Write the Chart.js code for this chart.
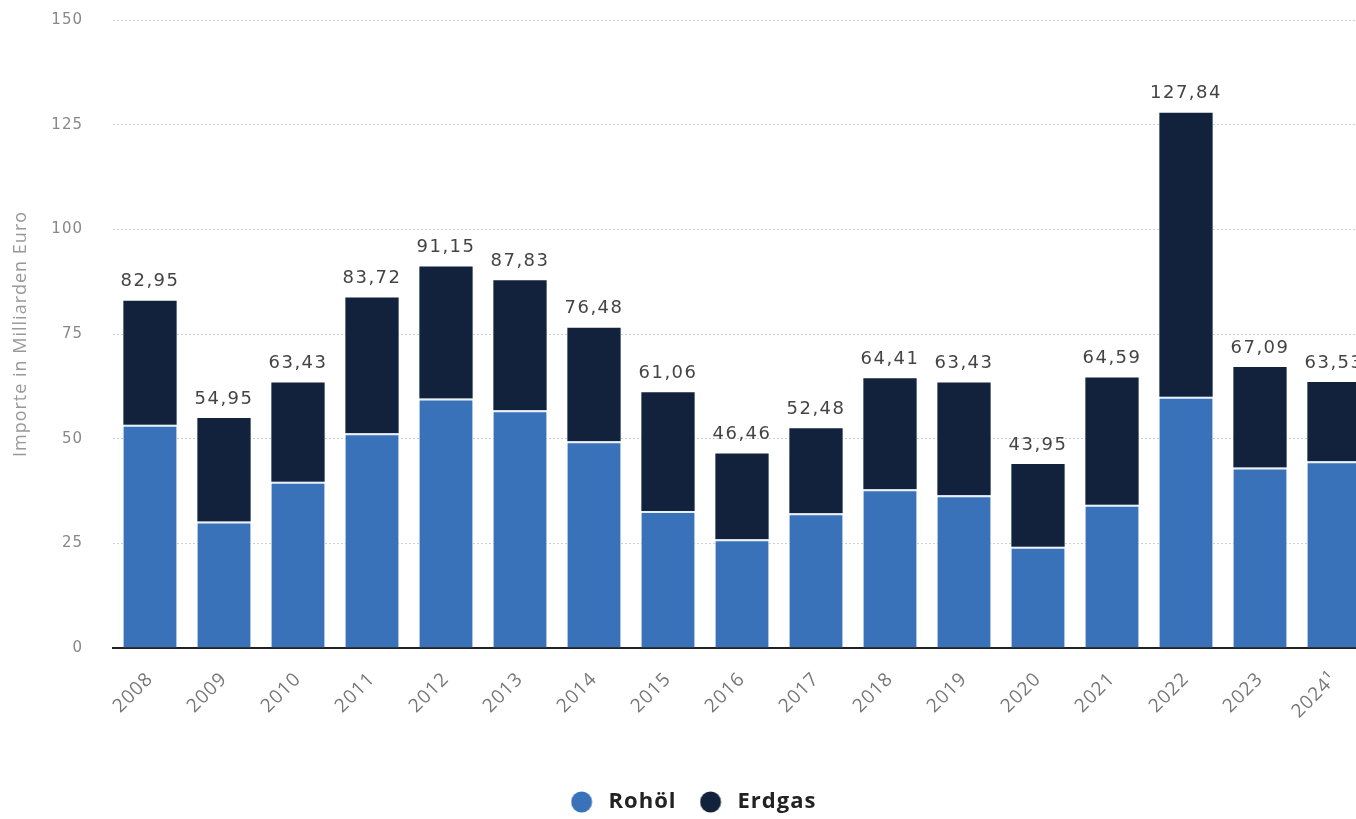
<!DOCTYPE html>
<html>
<head>
<meta charset="utf-8">
<script src="https://cdn.jsdelivr.net/npm/chart.js@4.4.1/dist/chart.umd.min.js"></script>
<style>
  html, body { margin: 0; padding: 0; background: #fff; overflow: hidden; }
  #wrap { width: 1372px; height: 819px; }
</style>
</head>
<body>
<div id="wrap"><canvas id="importChart"></canvas></div>
<script>
// Werte (Mrd. Euro)
var jahre = ['2008', '2009', '2010', '2011', '2012', '2013', '2014', '2015', '2016',
             '2017', '2018', '2019', '2020', '2021', '2022', '2023', '2024¹'];
var gesamt = [82.95, 54.95, 63.43, 83.72, 91.15, 87.83, 76.48, 61.06, 46.46,
              52.48, 64.41, 63.43, 43.95, 64.59, 127.84, 67.09, 63.53];
var rohoel = [53.3, 30.2, 39.7, 51.3, 59.6, 56.8, 49.4, 32.7, 26.0,
              32.2, 37.9, 36.5, 24.2, 34.2, 60.0, 43.1, 44.6];
var erdgas = [29.65, 24.75, 23.73, 32.42, 31.55, 31.03, 27.08, 28.36, 20.46,
              20.28, 26.51, 26.93, 19.75, 30.39, 67.84, 23.99, 18.93];
var yTicks = [0, 25, 50, 75, 100, 125, 150];

var farbeRohoel = '#3a72ba';
var farbeErdgas = '#13223c';

// Legendenpunkt als kleines Bild, damit mehr Abstand zum Text bleibt
function legendenPunkt(farbe) {
    var c = document.createElement('canvas');
    c.width = 32;
    c.height = 22;
    var g = c.getContext('2d');
    g.fillStyle = farbe;
    g.beginPath();
    g.arc(11, 11, 10.5, 0, Math.PI * 2);
    g.fill();
    return c;
}
var punkte = [legendenPunkt(farbeRohoel), legendenPunkt(farbeErdgas)];

// Summen ueber den Balken
var summenPlugin = {
    id: 'summen',
    beforeDraw: function (chart) {
        chart.ctx.letterSpacing = '1px';
    },
    afterDatasetsDraw: function (chart) {
        var ctx = chart.ctx;
        var meta = chart.getDatasetMeta(1);
        ctx.save();
        ctx.font = '18px "DejaVu Sans"';
        ctx.fillStyle = '#444';
        ctx.textAlign = 'center';
        ctx.textBaseline = 'bottom';
        ctx.letterSpacing = '1.5px';
        meta.data.forEach(function (bar, i) {
            var txt = gesamt[i].toFixed(2).replace('.', ',');
            ctx.fillText(txt, bar.x, bar.y - 10);
        });
        ctx.restore();
    }
};

var ctx = document.getElementById('importChart').getContext('2d');
new Chart(ctx, {
    type: 'bar',
    data: {
        labels: jahre,
        datasets: [{
            label: 'Rohöl',
            data: rohoel,
            backgroundColor: farbeRohoel,
            borderColor: '#e8f0fa',
            borderWidth: { top: 2, left: 0, right: 0, bottom: 0 },
            borderSkipped: false,
            categoryPercentage: 0.72,
            barPercentage: 1
        }, {
            label: 'Erdgas',
            data: erdgas,
            backgroundColor: farbeErdgas,
            categoryPercentage: 0.72,
            barPercentage: 1
        }]
    },
    options: {
        responsive: true,
        maintainAspectRatio: false,
        animation: false,
        layout: { padding: { top: 20, left: 10, right: 1, bottom: -4 } },
        plugins: {
            tooltip: { enabled: false },
            legend: {
                position: 'bottom',
                labels: {
                    usePointStyle: true,
                    boxWidth: 22,
                    boxHeight: 15,
                    padding: 28,
                    color: '#222',
                    font: { family: '"Open Sans"', size: 22, weight: 'bold' },
                    generateLabels: function (chart) {
                        var items = Chart.defaults.plugins.legend.labels.generateLabels(chart);
                        items.forEach(function (it, i) { it.pointStyle = punkte[i]; });
                        return items;
                    }
                }
            }
        },
        scales: {
            x: {
                stacked: true,
                grid: { display: false },
                border: { display: true, color: '#222', width: 2 },
                ticks: {
                    color: '#777',
                    font: { family: '"Open Sans"', size: 19 },
                    maxRotation: 45,
                    minRotation: 45,
                    padding: 12
                },
                afterFit: function (scale) { scale.height = 115; }
            },
            y: {
                stacked: true,
                min: 0,
                max: 150,
                afterBuildTicks: function (scale) {
                    scale.ticks = yTicks.map(function (v) { return { value: v }; });
                },
                grid: {
                    color: '#cfcfcf',
                    lineWidth: 1,
                    drawTicks: false
                },
                // gepunktete Gitterlinien
                border: { display: false, dash: [2, 2] },
                ticks: {
                    color: '#888',
                    font: { family: '"DejaVu Sans"', size: 15 },
                    padding: 30
                },
                title: {
                    display: true,
                    text: 'Importe in Milliarden Euro',
                    color: '#999',
                    font: { family: '"Open Sans"', size: 18 },
                    padding: 0
                },
                afterFit: function (scale) {
                    scale.width = 103;
                    scale.paddingTop = 0;
                    scale.paddingBottom = 0;
                }
            }
        }
    },
    plugins: [summenPlugin]
});
</script>
</body>
</html>
